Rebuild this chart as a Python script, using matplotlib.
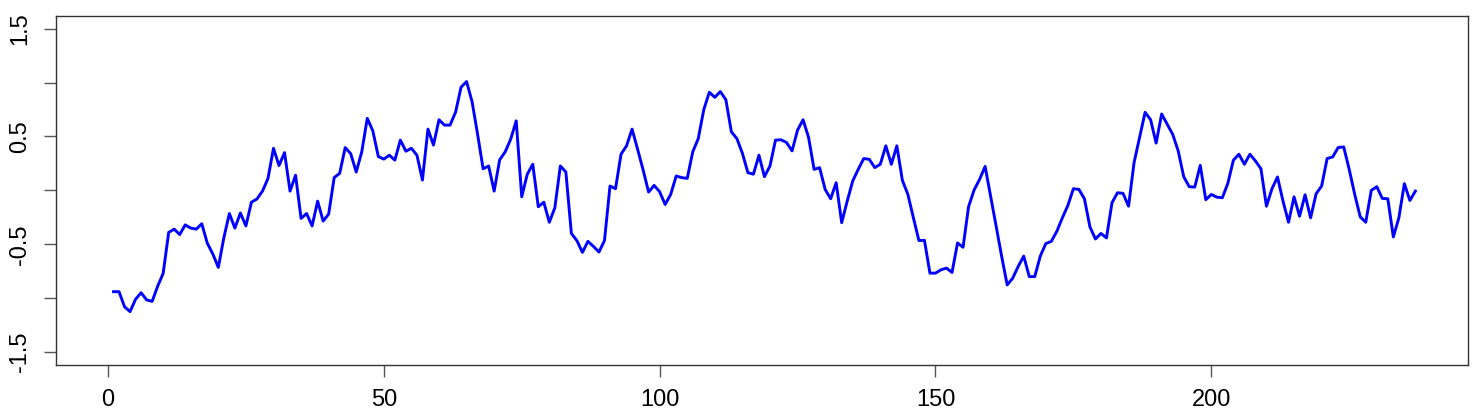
import matplotlib
matplotlib.use("Agg")
import matplotlib.pyplot as plt
import numpy as np

plt.rcParams['font.family'] = ['Liberation Sans', 'DejaVu Sans']

values = [
    -0.94, -0.94, -1.08, -1.125, -1.01, -0.95, -1.016, -1.03, -0.89, -0.77,
    -0.39, -0.36, -0.41, -0.32, -0.35, -0.36, -0.31, -0.49, -0.59, -0.715,
    -0.44, -0.215, -0.35, -0.21, -0.33, -0.11, -0.08, -0.007, 0.11, 0.39,
    0.23, 0.35, -0.007, 0.14, -0.26, -0.215, -0.33, -0.10, -0.285, -0.22,
    0.118, 0.158, 0.397, 0.34, 0.17, 0.357, 0.668, 0.553, 0.314, 0.29,
    0.326, 0.28, 0.466, 0.363, 0.39, 0.326, 0.096, 0.568, 0.42, 0.655,
    0.605, 0.605, 0.724, 0.957, 1.009, 0.822, 0.52, 0.20, 0.226, -0.007,
    0.283, 0.357, 0.475, 0.645, -0.06, 0.149, 0.242, -0.152, -0.11, -0.296,
    -0.162, 0.226, 0.17, -0.40, -0.466, -0.575, -0.473, -0.52, -0.572, -0.466,
    0.04, 0.015, 0.335, 0.413, 0.568, 0.382, 0.19, -0.016, 0.046, -0.013,
    -0.131, -0.038, 0.133, 0.118, 0.111, 0.357, 0.48, 0.748, 0.91, 0.863,
    0.916, 0.841, 0.543, 0.48, 0.344, 0.164, 0.15, 0.326, 0.127, 0.226,
    0.466, 0.469, 0.444, 0.366, 0.559, 0.655, 0.49, 0.195, 0.21, 0.009,
    -0.078, 0.071, -0.30, -0.10, 0.087, 0.195, 0.295, 0.288, 0.211, 0.242,
    0.413, 0.242, 0.413, 0.093, -0.038, -0.255, -0.466, -0.463, -0.768, -0.768,
    -0.737, -0.721, -0.762, -0.488, -0.528, -0.152, 0.003, 0.102, 0.222, -0.053,
    -0.333, -0.613, -0.877, -0.815, -0.705, -0.61, -0.80, -0.80, -0.61, -0.494,
    -0.473, -0.38, -0.255, -0.14, 0.015, 0.009, -0.078, -0.339, -0.451, -0.40,
    -0.441, -0.115, -0.022, -0.028, -0.147, 0.257, 0.49, 0.724, 0.655, 0.438,
    0.708, 0.615, 0.52, 0.366, 0.127, 0.034, 0.03, 0.232, -0.087, -0.038,
    -0.063, -0.069, 0.065, 0.279, 0.335, 0.242, 0.335, 0.273, 0.20, -0.147,
    0.015, 0.124, -0.10, -0.296, -0.06, -0.24, -0.041, -0.255, -0.032, 0.04,
    0.295, 0.31, 0.397, 0.403, 0.195, -0.038, -0.246, -0.296, 0.0, 0.034,
    -0.075, -0.078, -0.432, -0.255, 0.062, -0.094, -0.007,
]
index = np.arange(1, len(values) + 1)

x_ticks = [0, 50, 100, 150, 200]
y_ticks = [-1.5, -1.0, -0.5, 0.0, 0.5, 1.0, 1.5]
y_labels = ["-1.5", "", "-0.5", "", "0.5", "", "1.5"]

fig = plt.figure(figsize=(14.75, 4.2), dpi=100)
ax = fig.add_axes([55.7 / 1475, 1 - 365 / 420, (1467.7 - 55.7) / 1475, (365 - 15.7) / 420])
ax.plot(index, values, color="#0000FF", lw=2.1, solid_joinstyle="round")

ax.set_xlim(-9.48, 246.48)
ax.set_ylim(-1.62, 1.62)
ax.set_xticks(x_ticks)
ax.set_xticklabels([str(t) for t in x_ticks])
ax.set_yticks(y_ticks)
ax.set_yticklabels(y_labels, rotation=90, va="center")
for s in ax.spines.values():
    s.set_linewidth(1.0)
    s.set_color("#333333")
ax.tick_params(axis="both", direction="out", length=8.5, width=1.0, color="#555555",
               labelsize=17, labelcolor="black")
ax.tick_params(axis="x", pad=9)
ax.tick_params(axis="y", pad=9)

fig.savefig("out.png", dpi=100, facecolor="white")
